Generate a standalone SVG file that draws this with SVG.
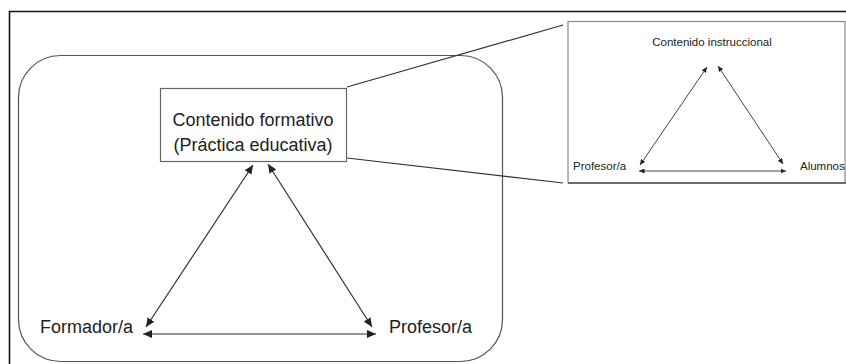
<svg xmlns="http://www.w3.org/2000/svg" width="846" height="364" viewBox="0 0 846 364">
  <style>
    text { font-family: "Liberation Sans", Arial, sans-serif; fill: #222; }
    .big { font-size: 18px; }
    .small { font-size: 11.5px; }
    .conn { stroke: #333; stroke-width: 1.2; fill: none; }
    .conn-s { stroke: #444; stroke-width: 1; fill: none; }
    .zoom { stroke: #333; stroke-width: 1.2; fill: none; }
  </style>
  <defs>
    <marker id="ah" markerUnits="userSpaceOnUse" markerWidth="10" markerHeight="8" refX="9" refY="4" orient="auto-start-reverse">
      <path d="M0,0 L9,4 L0,8 Z" fill="#222"/>
    </marker>
    <marker id="ahs" markerUnits="userSpaceOnUse" markerWidth="6" markerHeight="5" refX="5.5" refY="2.5" orient="auto-start-reverse">
      <path d="M0,0 L5.5,2.5 L0,5 Z" fill="#222"/>
    </marker>
  </defs>
  <rect x="0" y="0" width="846" height="364" fill="#fff"/>

  <g id="frame">
    <path d="M9.5,370 L9.5,11.5 L850,11.5" fill="none" stroke="#111" stroke-width="1.6"/>
  </g>

  <g id="context">
    <rect x="18.5" y="55.5" width="484" height="306" rx="42" ry="42" fill="none" stroke="#555" stroke-width="1.2"/>
  </g>

  <g id="zoom-lines">
    <line class="zoom" x1="347" y1="87" x2="563" y2="25"/>
    <line class="zoom" x1="347" y1="158" x2="563" y2="183"/>
  </g>

  <g id="contenido-formativo">
    <rect x="160.5" y="88.5" width="186" height="73" fill="#fff" stroke="#666" stroke-width="1.2"/>
    <text class="big" x="253" y="126" text-anchor="middle">Contenido formativo</text>
    <text class="big" x="253" y="151" text-anchor="middle">(Práctica educativa)</text>
  </g>

  <g id="formador">
    <text class="big" x="40" y="333">Formador/a</text>
  </g>

  <g id="profesor">
    <text class="big" x="389" y="333">Profesor/a</text>
  </g>

  <g id="inset">
    <rect x="568" y="21.5" width="277" height="161.5" fill="#fff" stroke="#888" stroke-width="1.2"/>
    <line x1="568" y1="183" x2="846" y2="183" stroke="#555" stroke-width="1.6"/>
  </g>

  <g id="contenido-instruccional">
    <text class="small" x="712" y="46" text-anchor="middle">Contenido instruccional</text>
  </g>

  <g id="profesor-inset">
    <text class="small" x="573" y="170">Profesor/a</text>
  </g>

  <g id="alumnos">
    <text class="small" x="800" y="170">Alumnos</text>
  </g>

  <g id="connectors">
    <line class="conn" x1="146" y1="327" x2="253" y2="165" marker-start="url(#ah)" marker-end="url(#ah)"/>
    <line class="conn" x1="268" y1="164" x2="372" y2="327" marker-start="url(#ah)" marker-end="url(#ah)"/>
    <line class="conn" x1="143" y1="334" x2="376" y2="334" marker-start="url(#ah)" marker-end="url(#ah)"/>
    <line class="conn-s" x1="640" y1="165" x2="707" y2="67" marker-start="url(#ahs)" marker-end="url(#ahs)"/>
    <line class="conn-s" x1="718" y1="66" x2="783" y2="164" marker-start="url(#ahs)" marker-end="url(#ahs)"/>
    <line class="conn-s" x1="639" y1="171" x2="786" y2="171" marker-start="url(#ahs)" marker-end="url(#ahs)"/>
  </g>
</svg>
